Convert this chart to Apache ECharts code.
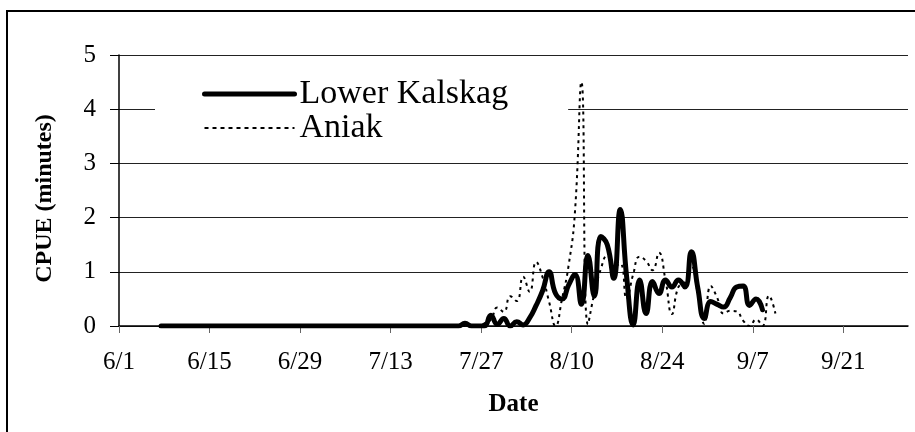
<!DOCTYPE html>
<html>
<head>
<meta charset="utf-8">
<script src="https://cdn.jsdelivr.net/npm/echarts@6/dist/echarts.min.js"></script>
<style>
html,body{margin:0;padding:0;background:#fff;}
#chart{width:915px;height:432px;}
</style>
</head>
<body>
<div id="chart"></div>
<script>
// ---- Data ----
const dates = [
 "6/7","6/8","6/9","6/10","6/11","6/12","6/13","6/14","6/15","6/16","6/17","6/18","6/19","6/20","6/21","6/22","6/23","6/24","6/25","6/26","6/27","6/28","6/29","6/30",
 "7/1","7/2","7/3","7/4","7/5","7/6","7/7","7/8","7/9","7/10","7/11","7/12","7/13","7/14","7/15","7/16","7/17","7/18","7/19","7/20","7/21","7/22","7/23","7/24","7/25","7/26","7/27","7/28","7/29","7/30","7/31",
 "8/1","8/2","8/3","8/4","8/5","8/6","8/7","8/8","8/9","8/10","8/11","8/12","8/13","8/14","8/15","8/16","8/17","8/18","8/19","8/20","8/21","8/22","8/23","8/24","8/25","8/26","8/27","8/28","8/29","8/30","8/31",
 "9/1","9/2","9/3","9/4","9/5","9/6","9/7","9/8","9/9","9/10"
];
const lowerKalskag = [
 0,0,0,0,0,0,0,0,0,0,0,0,0,0,0,0,0,0,0,0,0,0,0,0,
 0,0,0,0,0,0,0,0,0,0,0,0,0,0,0,0,0,0,0,0,0,0,0,0.05,0,0,0,0.2,0.03,0.14,0,
 0.08,0.02,0.15,0.38,0.65,1.0,0.6,0.5,0.75,0.95,0.4,1.3,0.55,1.65,1.5,0.88,2.15,0.9,0.02,0.85,0.23,0.82,0.6,0.85,0.72,0.85,0.72,1.37,0.7,0.14,0.45,
 0.4,0.35,0.52,0.72,0.74,0.38,0.5,0.3,null,null
];
const aniak = [
 0,0,0,0,0,0,0,0,0,0,0,0,0,0,0,0,0,0,0,0,0,0,0,0,
 0,0,0,0,0,0,0,0,0,0,0,0,0,0,0,0,0,0,0,0,0,0,0,0,0,0,0.05,0.12,0.34,0.26,0.55,
 0.46,0.91,0.63,1.18,0.9,0.45,0,0.5,1.1,2.1,4.5,0.03,0.6,1.05,1.3,1.1,1.15,0.5,0.95,1.28,1.2,1.03,1.35,0.85,0.22,0.72,0.8,1.1,0.6,0.04,0.74,
 0.52,0.23,0.28,0.27,0.1,0.0,0.12,0.0,0.56,0.23
];
const xTickLabels = ["6/1","6/15","6/29","7/13","7/27","8/10","8/24","9/7","9/21"];
const yTicks = [0,1,2,3,4,5];
const seriesNames = ["Lower Kalskag","Aniak"];

// ---- helpers: date <-> day offset from 6/1 ----
const monthStart = {6:0, 7:30, 8:61, 9:92, 10:122};
function dayOf(s){ const [m,d] = s.split("/").map(Number); return monthStart[m] + d - 1; }
function labelOf(day){
  const ms = [[10,122],[9,92],[8,61],[7,30],[6,0]];
  for (const [m,s] of ms){ if (day >= s) return m + "/" + (day - s + 1); }
  return "";
}
const tickDays = xTickLabels.map(dayOf);
const toPoints = vals => dates.map((d,i)=> vals[i]==null ? null : [dayOf(d)+0.5, vals[i]]).filter(p=>p);

const font = "Liberation Serif";
const thick = {color:'#000', width:5, cap:'round', join:'round'};
const dotted = {color:'#000', width:2, type:[3,4]};
const chart = echarts.init(document.getElementById('chart'), null, {renderer:'canvas'});
chart.setOption({
  animation:false,
  backgroundColor:'#fff',
  grid:{left:119, right:7, top:55, bottom:106, containLabel:false},
  graphic:[{type:'rect', shape:{x:7,y:11,width:1000,height:1000}, style:{fill:'none', stroke:'#000', lineWidth:2}, z:-1, silent:true}],
  legend:{
    orient:'vertical', left:155, top:64,
    padding:[13,60,13,47],
    backgroundColor:'#fff',
    itemWidth:90, itemHeight:14, itemGap:0,
    itemStyle:{opacity:0},
    textStyle:{fontFamily:font, fontSize:34, color:'#000'},
    data:[
      {name:seriesNames[0], lineStyle:{width:5, cap:'round'}},
      {name:seriesNames[1], lineStyle:{width:2, type:[4,4]}}
    ]
  },
  xAxis:{
    type:'value', min:0, max:122,
    name:'Date', nameLocation:'middle', nameGap:66,
    nameTextStyle:{fontFamily:font, fontSize:25, fontWeight:'bold', color:'#000'},
    axisLine:{lineStyle:{color:'#000', width:1.5}},
    axisTick:{show:true, length:7, customValues:tickDays, lineStyle:{color:'#666'}},
    axisLabel:{customValues:tickDays, formatter:v=>labelOf(Math.round(v)), fontFamily:font, fontSize:25, color:'#000', margin:24},
    splitLine:{show:false}
  },
  yAxis:{
    type:'value', min:0, max:5, interval:1,
    name:'CPUE (minutes)', nameLocation:'middle', nameGap:62, nameRotate:90,
    nameTextStyle:{fontFamily:font, fontSize:24, fontWeight:'bold', color:'#000', padding:[0,16,0,0]},
    axisLine:{show:true, lineStyle:{color:'#000', width:1.5}},
    axisTick:{show:true, length:9, lineStyle:{color:'#000'}},
    axisLabel:{fontFamily:font, fontSize:25, color:'#000', margin:23},
    splitLine:{show:true, lineStyle:{color:'#222', width:1.2}}
  },
  series:[
    {name:seriesNames[0], type:'line', data:toPoints(lowerKalskag), symbol:'none', smooth:0.5,
     lineStyle:thick, itemStyle:{color:'#000'}, z:3},
    {name:seriesNames[1], type:'line', data:toPoints(aniak), symbol:'none', smooth:0.5,
     lineStyle:dotted, itemStyle:{color:'#000'}, z:2}
  ]
});
</script>
</body>
</html>
